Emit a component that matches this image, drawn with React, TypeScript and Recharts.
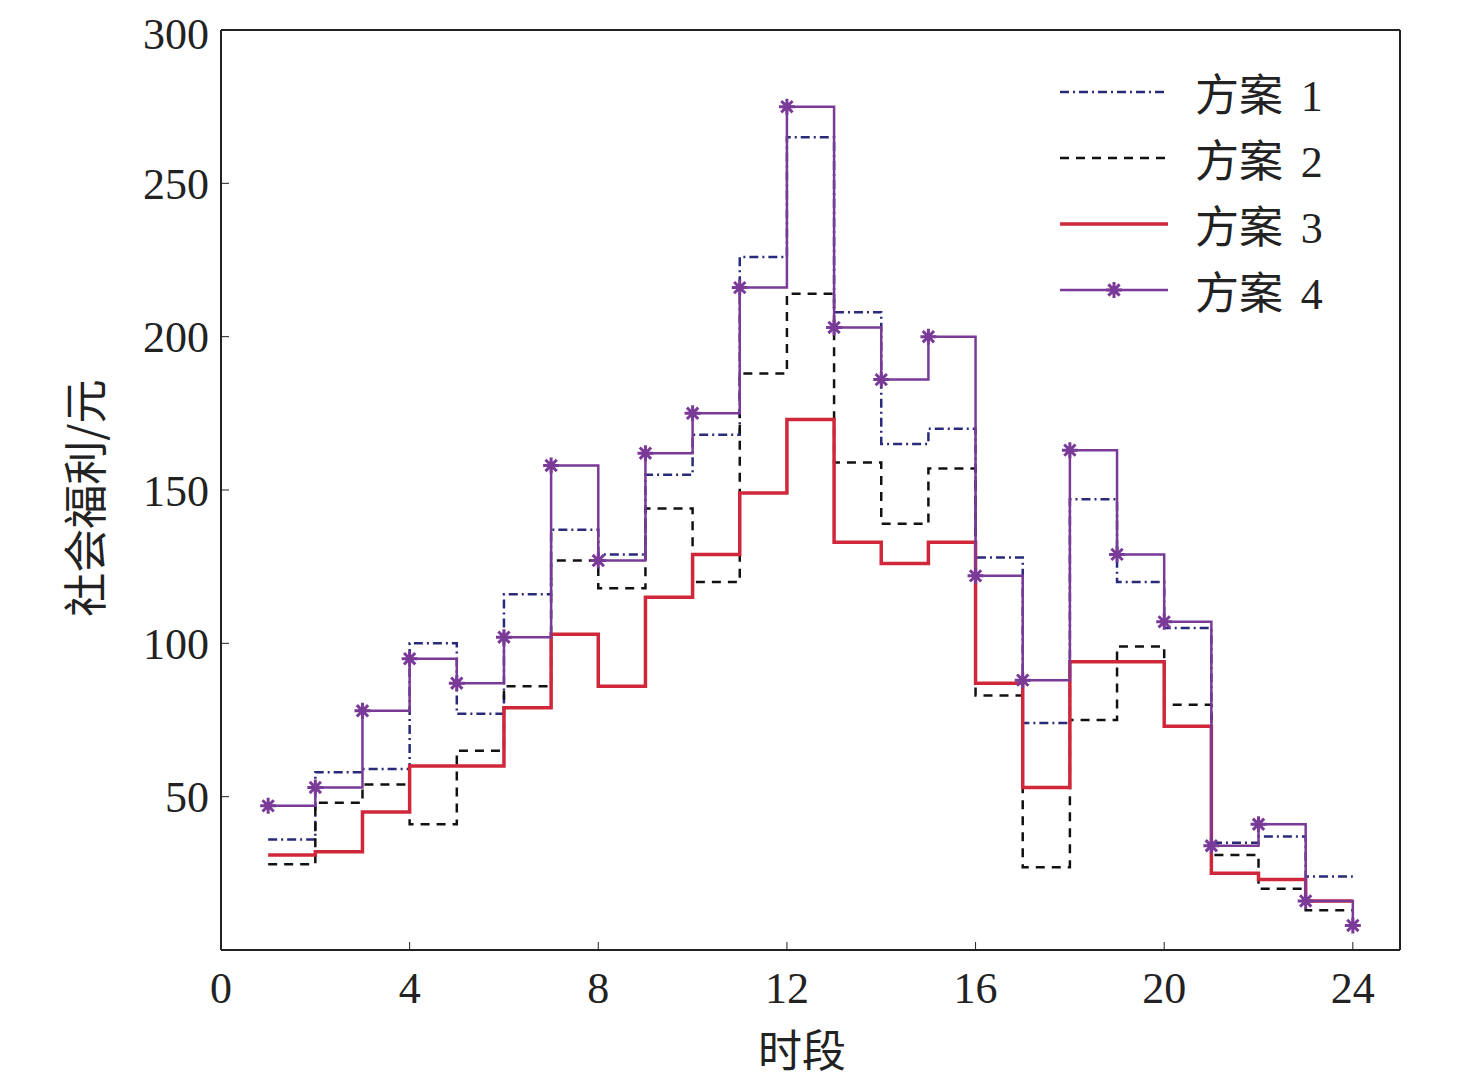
import React from "react";
import { Line, LineChart, XAxis, YAxis } from "recharts";

const hours = [1, 2, 3, 4, 5, 6, 7, 8, 9, 10, 11, 12, 13, 14, 15, 16, 17, 18, 19, 20, 21, 22, 23, 24];
const plan1 = [36, 58, 59, 100, 77, 116, 137, 129, 155, 168, 226, 265, 208, 165, 170, 128, 74, 147, 120, 105, 35, 37, 24, 24];
const plan2 = [28, 48, 54, 41, 65, 86, 127, 118, 144, 120, 188, 214, 159, 139, 157, 83, 27, 75, 99, 80, 31, 20, 13, 13];
const plan3 = [31, 32, 45, 60, 60, 79, 103, 86, 115, 129, 149, 173, 133, 126, 133, 87, 53, 94, 94, 73, 25, 23, 16, 16];
const plan4 = [47, 53, 78, 95, 87, 102, 158, 127, 162, 175, 216, 275, 203, 186, 200, 122, 88, 163, 129, 107, 34, 41, 16, 8];
const xTicks = [0, 4, 8, 12, 16, 20, 24];
const yTicks = [50, 100, 150, 200, 250, 300];

const data = hours.map((h, i) => ({ h, p1: plan1[i], p2: plan2[i], p3: plan3[i], p4: plan4[i] }));

const FONT = "'Liberation Serif', 'Times New Roman', serif";
const CJK = "'Noto Sans CJK SC', sans-serif";
const PURPLE = "#7a3a98";

const Star = (props: any) => {
  const { cx, cy } = props;
  const r = 8;
  const d = [0, 45, 90, 135]
    .map((a) => {
      const dx = r * Math.cos((a * Math.PI) / 180);
      const dy = r * Math.sin((a * Math.PI) / 180);
      return `M${cx - dx},${cy - dy}L${cx + dx},${cy + dy}`;
    })
    .join("");
  return <path key={`s-${cx}`} d={d} stroke={PURPLE} strokeWidth={3} fill="none" />;
};

const legendItems = [
  { name: "方案 1", color: "#2a2a7a", dash: "9 4 2 4", w: 2.5 },
  { name: "方案 2", color: "#111", dash: "9 7", w: 2.5 },
  { name: "方案 3", color: "#d0283a", dash: undefined, w: 3.5 },
  { name: "方案 4", color: PURPLE, dash: undefined, w: 2.5, star: true },
];

export default function App() {
  return (
    <div style={{ position: "relative", width: 1460, height: 1075, background: "#fff" }}>
      <LineChart width={1460} height={1075} data={data} margin={{ top: 21, right: 67, bottom: 73, left: 113 }}>
        <XAxis
          dataKey="h"
          type="number"
          domain={[0, 25]}
          ticks={xTicks}
          height={60}
          axisLine={{ stroke: "#222", strokeWidth: 2 }}
          tickSize={-8}
          tickLine={{ stroke: "#222" }}
          tick={{ fontFamily: FONT, fontSize: 44, fill: "#222", dy: 28 }}
        />
        <XAxis xAxisId="top" orientation="top" dataKey="h" type="number" domain={[0, 25]} height={1} tick={false} tickLine={false} axisLine={{ stroke: "#222", strokeWidth: 2 }} />
        <YAxis
          type="number"
          domain={[0, 300]}
          ticks={yTicks}
          width={100}
          axisLine={{ stroke: "#222", strokeWidth: 2 }}
          tickSize={-8}
          tickLine={{ stroke: "#222" }}
          tick={{ fontFamily: FONT, fontSize: 44, fill: "#222", dx: -18, dy: 0 }}
        />
        <YAxis yAxisId="right" orientation="right" domain={[0, 300]} width={1} tick={false} tickLine={false} axisLine={{ stroke: "#222", strokeWidth: 2 }} />
        <Line type="stepAfter" dataKey="p1" stroke="#2a2a7a" strokeWidth={2.5} strokeDasharray="9 4 2 4" dot={false} isAnimationActive={false} />
        <Line type="stepAfter" dataKey="p2" stroke="#111" strokeWidth={2.5} strokeDasharray="9 7" dot={false} isAnimationActive={false} />
        <Line type="stepAfter" dataKey="p3" stroke="#d0283a" strokeWidth={3.5} dot={false} isAnimationActive={false} />
        <Line type="stepAfter" dataKey="p4" stroke={PURPLE} strokeWidth={2.5} dot={<Star />} isAnimationActive={false} />
      </LineChart>
      <div style={{ position: "absolute", left: 750, top: 1012, fontFamily: CJK, fontSize: 44, lineHeight: "56px", color: "#222" }}>时段</div>
      <div
        style={{
          position: "absolute",
          left: 75,
          top: 490,
          transform: "translate(-50%, -50%) rotate(-90deg)",
          fontFamily: CJK,
          fontSize: 44,
          color: "#222",
          whiteSpace: "nowrap",
        }}
      >
        社会福利/元
      </div>
      {legendItems.map((it, i) => (
        <div key={it.name} style={{ position: "absolute", left: 1050, top: 52 + i * 66, display: "flex", alignItems: "center" }}>
          <svg width={115} height={60}>
            <line x1={2} y1={30} x2={110} y2={30} stroke={it.color} strokeWidth={it.w} strokeDasharray={it.dash} />
            {it.star && <Star cx={56} cy={30} />}
          </svg>
          <span style={{ marginLeft: 22, fontFamily: CJK, fontSize: 44, color: "#222" }}>
            方案 <span style={{ fontFamily: FONT, marginLeft: 8 }}>{it.name.slice(3)}</span>
          </span>
        </div>
      ))}
    </div>
  );
}
